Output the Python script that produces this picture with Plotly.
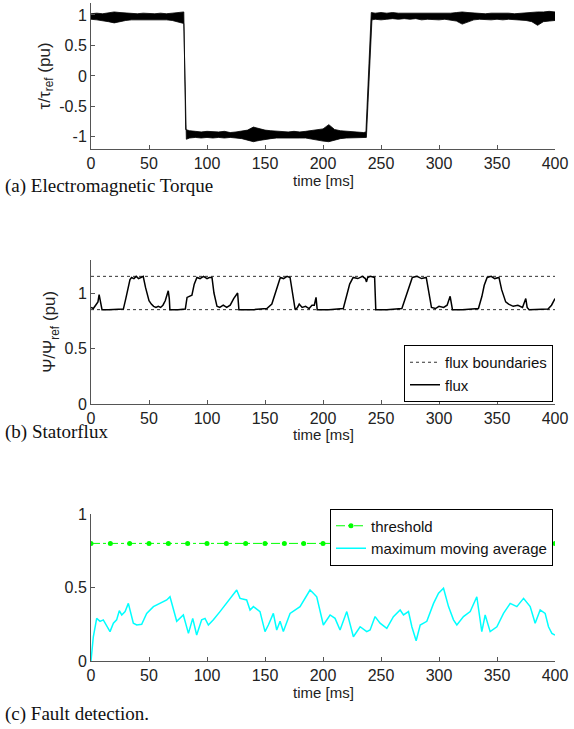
import plotly.graph_objects as go

# ---------------- data ----------------
# (a) torque: noisy band, upper and lower envelopes
tq_t_up = [0, 5, 10, 15, 20, 25, 30, 35, 40, 45, 50, 55, 60, 65, 70, 75, 80,
           81.6, 85, 90, 95, 100, 105, 110, 115, 120, 125, 130, 135, 140, 145, 150, 155, 160,
           165, 170, 175, 180, 185, 190, 195, 200, 205, 210, 215, 220, 225, 230, 235, 237,
           241.6, 245, 250, 255, 260, 265, 270, 275, 280, 285, 290, 295, 300, 305, 310, 315,
           320, 325, 330, 335, 340, 345, 350, 355, 360, 365, 370, 375, 380, 385, 390, 395, 400]
tq_up = [1.02, 1.03, 1.02, 1.03, 1.05, 1.04, 1.03, 1.02, 1.02, 1.03, 1.02, 1.02, 1.03, 1.02, 1.03, 1.04, 1.05,
         -0.88, -0.90, -0.91, -0.92, -0.91, -0.92, -0.92, -0.91, -0.93, -0.92, -0.91, -0.89, -0.84, -0.87,
         -0.89, -0.90, -0.91, -0.92, -0.92, -0.91, -0.92, -0.91, -0.90, -0.88, -0.87, -0.80, -0.88, -0.90,
         -0.91, -0.92, -0.93, -0.93, -0.92,
         1.04, 1.03, 1.04, 1.03, 1.04, 1.03, 1.03, 1.02, 1.03, 1.03, 1.02, 1.03, 1.02, 1.03, 1.03, 1.04,
         1.05, 1.04, 1.03, 1.03, 1.02, 1.03, 1.03, 1.04, 1.03, 1.02, 1.03, 1.03, 1.04, 1.05, 1.05, 1.06, 1.05]
tq_t_lo = [0, 5, 10, 15, 20, 25, 30, 35, 40, 45, 50, 55, 60, 65, 70, 75, 80,
           82.2, 85, 90, 95, 100, 105, 110, 115, 120, 125, 130, 135, 140, 145, 150, 155, 160,
           165, 170, 175, 180, 185, 190, 195, 200, 205, 210, 215, 220, 225, 230, 235, 237.4,
           242.2, 245, 250, 255, 260, 265, 270, 275, 280, 285, 290, 295, 300, 305, 310, 315,
           320, 325, 330, 335, 340, 345, 350, 355, 360, 365, 370, 375, 380, 385, 390, 395, 400]
tq_lo = [0.93, 0.92, 0.91, 0.89, 0.87, 0.89, 0.91, 0.92, 0.93, 0.93, 0.92, 0.93, 0.92, 0.92, 0.91, 0.89, 0.86,
         -1.04, -1.02, -1.01, -1.02, -1.01, -1.02, -1.01, -1.02, -1.01, -1.02, -1.03, -1.05, -1.08, -1.06,
         -1.04, -1.03, -1.02, -1.02, -1.01, -1.02, -1.02, -1.02, -1.03, -1.05, -1.07, -1.08, -1.06, -1.03,
         -1.02, -1.01, -1.01, -1.01, -1.01,
         0.92, 0.93, 0.92, 0.93, 0.94, 0.93, 0.94, 0.93, 0.94, 0.92, 0.93, 0.93, 0.92, 0.93, 0.92, 0.90,
         0.85, 0.89, 0.92, 0.93, 0.93, 0.92, 0.93, 0.92, 0.93, 0.93, 0.92, 0.91, 0.89, 0.83, 0.89, 0.90, 0.91]

# (b) stator flux
flux_t = [0, 2, 4, 6, 7, 8, 9.5, 15, 20, 27.9, 30, 32, 33.6, 35, 37, 39, 41, 43, 45, 47, 49, 50,
          52, 54, 56, 58, 60, 62, 64, 66.6, 67.5, 68, 75, 81.3, 82.8, 85, 87, 89, 91.3, 94, 97,
          100, 102, 104.3, 106, 108.6, 111, 114, 117, 120, 123, 126.4, 127.5, 140, 151.6, 155.9,
          158.8, 161, 163.2, 166, 169, 171.6, 174, 176, 178, 179.5, 182, 185, 188, 190.5, 192.5,
          194, 195, 205, 217.5, 220, 223, 226, 230, 234, 236.5, 237.5, 238.5, 240.8, 244.5, 245.5,
          255, 268, 271, 274, 277, 281, 285, 289, 291, 293.5, 297, 300, 304, 307, 309.6, 311,
          311.6, 320, 334, 337, 339, 341.5, 345, 348, 351.7, 354, 357.5, 360, 364, 368, 372,
          374.8, 376, 377.7, 385, 394, 397, 400]
flux_v = [0.87, 0.86, 0.89, 0.92, 0.985, 0.93, 0.85, 0.85, 0.85, 0.855, 0.95, 1.06, 1.12, 1.14,
          1.13, 1.15, 1.13, 1.14, 1.15, 1.05, 0.97, 0.93, 0.90, 0.88, 0.87, 0.88, 0.87, 0.89, 0.93,
          1.02, 0.95, 0.85, 0.85, 0.855, 0.96, 0.97, 0.98, 1.08, 1.14, 1.13, 1.15, 1.13, 1.14, 1.14,
          1.0, 0.88, 0.87, 0.89, 0.87, 0.89, 0.95, 1.0, 0.85, 0.85, 0.86, 0.9, 1.0, 1.06, 1.14,
          1.13, 1.15, 1.14, 0.96, 0.85, 0.87, 0.9, 0.87, 0.88, 0.86, 0.89, 0.89, 0.96, 0.85, 0.85,
          0.86, 0.97, 1.08, 1.14, 1.13, 1.15, 1.13, 1.10, 1.14, 1.15, 1.14, 0.85, 0.85, 0.86, 0.95,
          1.05, 1.14, 1.15, 1.13, 1.14, 1.0, 0.87, 0.86, 0.88, 0.87, 0.89, 0.97, 0.90, 0.85, 0.85,
          0.86, 0.97, 1.07, 1.14, 1.15, 1.13, 1.14, 1.03, 0.92, 0.90, 0.88, 0.89, 0.87, 0.95, 0.87,
          0.85, 0.85, 0.855, 0.89, 0.95]
bound_t = [0, 400]
bound_lo = [0.85, 0.85]
bound_hi = [1.15, 1.15]

# (c) fault detection
thr_t = [0, 16.7, 33.3, 50, 66.7, 83.3, 100, 116.7, 133.3, 150, 166.7, 183.3, 200, 216.7,
         233.3, 250, 266.7, 283.3, 300, 316.7, 333.3, 350, 366.7, 383.3, 400]
thr_v = [0.8] * len(thr_t)
mma_t = [0, 2, 4.9, 7.8, 10.6, 14.1, 16.4, 19.3, 22.1, 24.4, 26.5, 29.4, 32.2, 36.5, 39.4, 43.7,
         48, 53.8, 59.5, 65.3, 68.1, 73.9, 79.6, 84, 87.7, 91.1, 95.4, 98.3, 101.2, 105.5, 111.2,
         119.9, 125.6, 128.5, 134.2, 137.1, 140, 145.7, 150, 152.9, 157.2, 160.1, 163, 165.8,
         171.6, 180.2, 188.8, 191.7, 194.6, 200.3, 206.1, 210.4, 214.7, 220.5, 226.2, 232, 237.7,
         240.6, 244.9, 249.2, 255, 260.7, 266.5, 269.4, 273.7, 276.6, 280.3, 283.8, 289.5, 295.3,
         299.6, 303.9, 308.2, 312.5, 315.4, 321.1, 326.9, 332.6, 336.9, 339.8, 344.1, 349.9, 355.6,
         361.4, 367.1, 372.9, 378.6, 382.9, 387.2, 391.5, 394.4, 397.3, 400]
mma_v = [0, 0.165, 0.29, 0.27, 0.28, 0.233, 0.2, 0.257, 0.28, 0.342, 0.313, 0.336, 0.392, 0.257,
         0.245, 0.25, 0.324, 0.37, 0.392, 0.415, 0.437, 0.27, 0.313, 0.188, 0.29, 0.177, 0.28, 0.29,
         0.245, 0.28, 0.336, 0.426, 0.483, 0.426, 0.415, 0.347, 0.37, 0.336, 0.2, 0.245, 0.324,
         0.211, 0.27, 0.2, 0.324, 0.37, 0.483, 0.461, 0.437, 0.245, 0.313, 0.29, 0.211, 0.336,
         0.165, 0.233, 0.2, 0.211, 0.302, 0.257, 0.222, 0.302, 0.347, 0.313, 0.336, 0.233, 0.138,
         0.245, 0.27, 0.392, 0.461, 0.495, 0.37, 0.28, 0.245, 0.302, 0.336, 0.437, 0.2, 0.313, 0.2,
         0.233, 0.324, 0.392, 0.37, 0.426, 0.37, 0.257, 0.347, 0.324, 0.233, 0.188, 0.177]

x_ticks = [0, 50, 100, 150, 200, 250, 300, 350, 400]
y1_ticks = [-1, -0.5, 0, 0.5, 1]
y1_labels = ["-1", "-0.5", "0", "0.5", "1"]
y23_ticks = [0, 0.5, 1]
y23_labels = ["0", "0.5", "1"]

# ---------------- figure ----------------
W, H = 574, 729
fig = go.Figure()

fig.add_trace(go.Scatter(
    x=tq_t_up + tq_t_lo[::-1], y=tq_up + tq_lo[::-1], fill="toself",
    fillcolor="black", mode="lines", line=dict(color="black", width=0.8),
    showlegend=False, xaxis="x", yaxis="y", hoverinfo="skip"))

fig.add_trace(go.Scatter(x=bound_t, y=bound_hi, mode="lines", name="flux boundaries",
                         line=dict(color="#333", width=1, dash="3px,3px"),
                         legendgroup="b", legend="legend2", xaxis="x2", yaxis="y2"))
fig.add_trace(go.Scatter(x=bound_t, y=bound_lo, mode="lines", name="flux boundaries",
                         line=dict(color="#333", width=1, dash="3px,3px"),
                         legendgroup="b", showlegend=False, legend="legend2",
                         xaxis="x2", yaxis="y2"))
fig.add_trace(go.Scatter(x=flux_t, y=flux_v, mode="lines", name="flux",
                         line=dict(color="black", width=1.5),
                         legend="legend2", xaxis="x2", yaxis="y2"))

fig.add_trace(go.Scatter(x=thr_t, y=thr_v, mode="lines+markers", name="threshold",
                         line=dict(color="#00ff00", width=1, dash="dashdot"),
                         marker=dict(color="#00ff00", size=5, symbol="circle"),
                         legend="legend3", xaxis="x3", yaxis="y3"))
fig.add_trace(go.Scatter(x=mma_t, y=mma_v, mode="lines", name="maximum moving average",
                         line=dict(color="#00ffff", width=1.5),
                         legend="legend3", xaxis="x3", yaxis="y3"))

X0, X1 = 91 / W, 555 / W
axcol = "#555"
FONT = "Liberation Sans, Arial"
tickfont = dict(family=FONT, size=16, color="#222")


def xax(anchor):
    return dict(domain=[X0, X1], anchor=anchor, range=[0, 400], tickvals=x_ticks,
                ticks="inside", ticklen=4, tickcolor=axcol, showline=True, linecolor=axcol,
                linewidth=1, showgrid=False, zeroline=False, tickfont=tickfont,
                automargin=False)


def yax(anchor, dom, rng, tv, tt, title):
    return dict(domain=dom, anchor=anchor, range=rng, tickvals=tv, ticktext=tt,
                ticks="inside", ticklen=4, tickcolor=axcol, showline=True, linecolor=axcol,
                linewidth=1, showgrid=False, zeroline=False, tickfont=tickfont,
                title=dict(text=title, standoff=4,
                           font=dict(family=FONT, size=17, color="#222")),
                automargin=False)


legstyle = dict(bgcolor="white", bordercolor="black", borderwidth=1, xanchor="right",
                itemwidth=30, tracegroupgap=0,
                font=dict(family=FONT, size=15, color="#111"))

fig.update_layout(
    width=W, height=H, margin=dict(l=0, r=0, t=0, b=0),
    paper_bgcolor="white", plot_bgcolor="white",
    font=dict(family=FONT, color="#222"),
    xaxis=xax("y"), xaxis2=xax("y2"), xaxis3=xax("y3"),
    yaxis=yax("x", [1 - 149 / H, 1 - 2.8 / H], [-1.2, 1.2], y1_ticks, y1_labels,
              "τ/τ<sub>ref</sub> (pu)"),
    yaxis2=yax("x2", [1 - 404 / H, 1 - 259.7 / H], [0, 1.3], y23_ticks, y23_labels,
               "Ψ/Ψ<sub>ref</sub> (pu)"),
    yaxis3=yax("x3", [1 - 661 / H, 1 - 514 / H], [0, 1], y23_ticks, y23_labels, ""),
    legend2=dict(x=553 / W, y=1 - 402 / H, yanchor="bottom", **legstyle),
    legend3=dict(x=553 / W, y=1 - 537 / H, yanchor="middle", **legstyle),
    showlegend=True,
)

# x-axis titles (placed as in the reference, tight under the tick labels)
for ypx in (180, 435, 692):
    fig.add_annotation(text="time [ms]", x=(X0 + X1) / 2, y=1 - ypx / H, xref="paper",
                       yref="paper", xanchor="center", yanchor="middle", showarrow=False,
                       font=dict(family=FONT, size=15, color="#222"))

captions = [("(a) Electromagnetic Torque", 186), ("(b) Statorflux", 432),
            ("(c) Fault detection.", 714)]
for txt, ypx in captions:
    fig.add_annotation(text=txt, x=3 / W, y=1 - ypx / H, xref="paper", yref="paper",
                       xanchor="left", yanchor="middle", showarrow=False,
                       font=dict(family="Liberation Serif, Times New Roman", size=19,
                                 color="#111"))

fig.write_html("out.html")
